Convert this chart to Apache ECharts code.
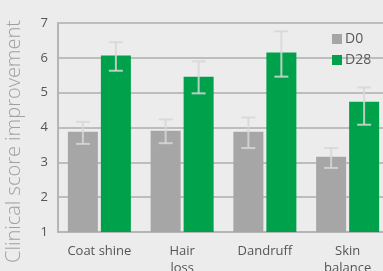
<!DOCTYPE html>
<html>
<head>
<meta charset="utf-8">
<script src="https://cdn.jsdelivr.net/npm/echarts@6/dist/echarts.min.js"></script>
<style>
html,body{margin:0;padding:0;background:#ececec;}
#chart{width:383px;height:271px;}
</style>
</head>
<body>
<div id="chart"></div>
<script>
var categories = ['Coat shine', 'Hair\nloss', 'Dandruff', 'Skin\nbalance'];
var d0     = [3.88, 3.91, 3.88, 3.16];
var d0Low  = [3.53, 3.55, 3.41, 2.84];
var d0High = [4.16, 4.23, 4.29, 3.41];
var d28     = [6.07, 5.46, 6.15, 4.74];
var d28Low  = [5.63, 4.98, 5.46, 4.08];
var d28High = [6.45, 5.90, 6.76, 5.15];

function errorSeries(name, low, high, offset){
	var rows = [];
	for (var i = 0; i < low.length; i++) rows.push([i, low[i], high[i]]);
	return {
		name: name,
		type: 'custom',
		z: 10,
		silent: true,
		data: rows,
		encode: {x: 0, y: [1, 2]},
		renderItem: function(params, api){
			var lo = api.coord([api.value(0), api.value(1)]);
			var hi = api.coord([api.value(0), api.value(2)]);
			var x = lo[0] + offset;
			var cap = 7;
			var st = {stroke: 'rgba(215,215,215,0.85)', lineWidth: 2};
			return {
				type: 'group',
				children: [
					{type: 'line', shape: {x1: x, y1: lo[1], x2: x, y2: hi[1]}, style: st},
					{type: 'line', shape: {x1: x - cap, y1: lo[1], x2: x + cap, y2: lo[1]}, style: st},
					{type: 'line', shape: {x1: x - cap, y1: hi[1], x2: x + cap, y2: hi[1]}, style: st}
				]
			};
		}
	};
}

var myChart = echarts.init(document.getElementById('chart'));
var option = {
	backgroundColor: '#ececec',
	animation: false,
	textStyle: {fontFamily: 'Open Sans'},
	grid: {left: 58, right: -6, top: 23, bottom: 39, containLabel: false, outerBoundsMode: 'none'},
	legend: {
		orient: 'vertical',
		left: 327,
		top: 27,
		itemWidth: 10,
		itemHeight: 10,
		itemGap: 7,
		icon: 'rect',
		data: ['D0', 'D28'],
		textStyle: {fontSize: 14, color: '#5a5a5a', padding: [0, 0, 0, -2]}
	},
	xAxis: {
		type: 'category',
		data: categories,
		axisLine: {lineStyle: {color: '#b5b5b5', width: 2}},
		axisTick: {show: false},
		axisLabel: {fontSize: 13, color: '#555555', margin: 11, lineHeight: 17, interval: 0}
	},
	yAxis: {
		type: 'value',
		min: 1,
		max: 7,
		interval: 1,
		name: 'Clinical score improvement',
		nameLocation: 'middle',
		nameGap: 34,
		nameTextStyle: {fontSize: 20, color: '#a0a0a0', fontWeight: 300, padding: [0, 28, 0, 0]},
		axisLine: {show: true, lineStyle: {color: '#b5b5b5', width: 2}},
		axisLabel: {fontSize: 13, color: '#555555', margin: 10},
		splitLine: {lineStyle: {color: '#bdbdbd', width: 2}}
	},
	series: [
		{name: 'D0', type: 'bar', data: d0, barWidth: 30, barGap: '10%', itemStyle: {color: '#a6a6a6'}},
		{name: 'D28', type: 'bar', data: d28, barWidth: 30, barGap: '10%', itemStyle: {color: '#00a14b'}},
		errorSeries('e0', d0Low, d0High, -16.5),
		errorSeries('e28', d28Low, d28High, 16.5)
	]
};
myChart.setOption(option);
</script>
</body>
</html>
